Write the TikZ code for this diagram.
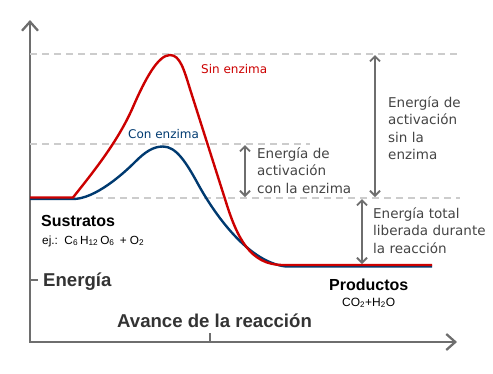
\documentclass[tikz,border=0pt]{standalone}
\usepackage{fontspec}
\setmainfont{Liberation Sans}
\newfontfamily\dejavu{DejaVu Sans}
\usepackage{tikz}
\usetikzlibrary{arrows.meta}

\definecolor{rojo}{HTML}{CC0000}
\definecolor{azul}{HTML}{003A70}
\definecolor{gris}{HTML}{6E6E6E}
\definecolor{grisclaro}{HTML}{CCCCCC}
\definecolor{texto}{HTML}{444444}
\definecolor{oscuro}{HTML}{333333}

\begin{document}
\begin{tikzpicture}[x=1pt,y=-1pt,
		eje/.style={line width=2.3pt,gris,{Straight Barb[length=9pt,width=16pt]}-{Straight Barb[length=9pt,width=16pt]}},
		nivel/.style={line width=1.5pt,grisclaro,dash pattern=on 7pt off 5pt},
		cota/.style={line width=1.8pt,gris,{Straight Barb[length=5pt,width=10pt]}-{Straight Barb[length=5pt,width=10pt]}},
		curva/.style={line width=2.4pt,line join=round},
		nota/.style={font=\dejavu\fontsize{13.5}{17.5}\selectfont,text=texto,align=left,inner sep=0pt},
		titulo/.style={font=\bfseries\fontsize{18.6}{20}\selectfont,text=oscuro,inner sep=0pt},
		estado/.style={font=\bfseries\fontsize{16}{18}\selectfont,inner sep=0pt}]

			\useasboundingbox (0,0) rectangle (493,373);

			% ejes
			\coordinate (origen) at (30,342);
			\coordinate (arriba) at (30,20);
			\coordinate (derecha) at (457,342);
			\draw [eje] (arriba) -- (origen) -- (derecha);
			\draw [line width=2pt,gris] (210,342) -- (210,333);
			\draw [line width=2pt,gris] (30,280) -- (38,280);

			% niveles de energia
			\draw [nivel] (30,54) -- (460,54);
			\draw [nivel] (30,144) -- (310,144);
			\draw [nivel] (96,198) -- (460,198);

			% curvas
			\draw [curva,azul] (30,199) -- (73,199) .. controls (95,199) and (123,174) .. (135,162)
				.. controls (145,152) and (153,146.5) .. (163,146.5)
				.. controls (176,146.5) and (186,162) .. (198,184)
				.. controls (210,206) and (245,262) .. (286,266.5) -- (432,266.5);
			\draw [curva,rojo] (30,197.5) -- (73,197.5) .. controls (93,172.3) and (118,141.5) .. (133,107)
				.. controls (145,79.4) and (158,55) .. (170,55)
				.. controls (180,55) and (184,69.6) .. (190,89)
				-- (225,199) .. controls (237,238) and (250,265) .. (283,265) -- (432,265);

			\node [font=\dejavu\fontsize{12}{14}\selectfont,text=rojo,anchor=base west,inner sep=0pt] (sin) at (201,73) {Sin enzima};
			\node [font=\dejavu\fontsize{12}{14}\selectfont,text=azul,anchor=base west,inner sep=0pt] (con) at (128,138) {Con enzima};

			% cotas
			\coordinate (sinA) at (375,55);
			\coordinate (sinB) at (375,197);
			\coordinate (conA) at (245,145);
			\coordinate (conB) at (245,197);
			\coordinate (totA) at (362,199);
			\coordinate (totB) at (362,264);
			\draw [cota] (sinA) -- (sinB);
			\draw [cota] (conA) -- (conB);
			\draw [cota] (totA) -- (totB);

			\node [nota,anchor=base west] (notasin) at (388,159.5) {Energía de\\activación\\sin la\\enzima};
			\node [nota,anchor=base west] (notacon) at (257,193) {Energía de\\activación\\con la enzima};
			\node [nota,anchor=base west] (notatot) at (373,253) {Energía total\\liberada durante\\la reacción};

			% textos
			\node [estado,anchor=base west] (sustratos) at (41,226) {Sustratos};
			\node [font=\fontsize{11.8}{13}\selectfont,anchor=base west,inner sep=0pt] (ejemplo) at (42,244) {ej.:\ \ C\textsubscript{6}\,H\textsubscript{12}\,O\textsubscript{6} \,+ O\textsubscript{2}};
			\node [estado,anchor=base west] (productos) at (329,290) {Productos};
			\node [font=\fontsize{12}{14}\selectfont,anchor=base west,inner sep=0pt] (co2) at (342,306) {CO\textsubscript{2}+H\textsubscript{2}O};
			\node [titulo,anchor=base west] (energia) at (43,286) {Energía};
			\node [titulo,anchor=base west] (avance) at (117,327) {Avance de la reacción};
		\end{tikzpicture}
\end{document}
